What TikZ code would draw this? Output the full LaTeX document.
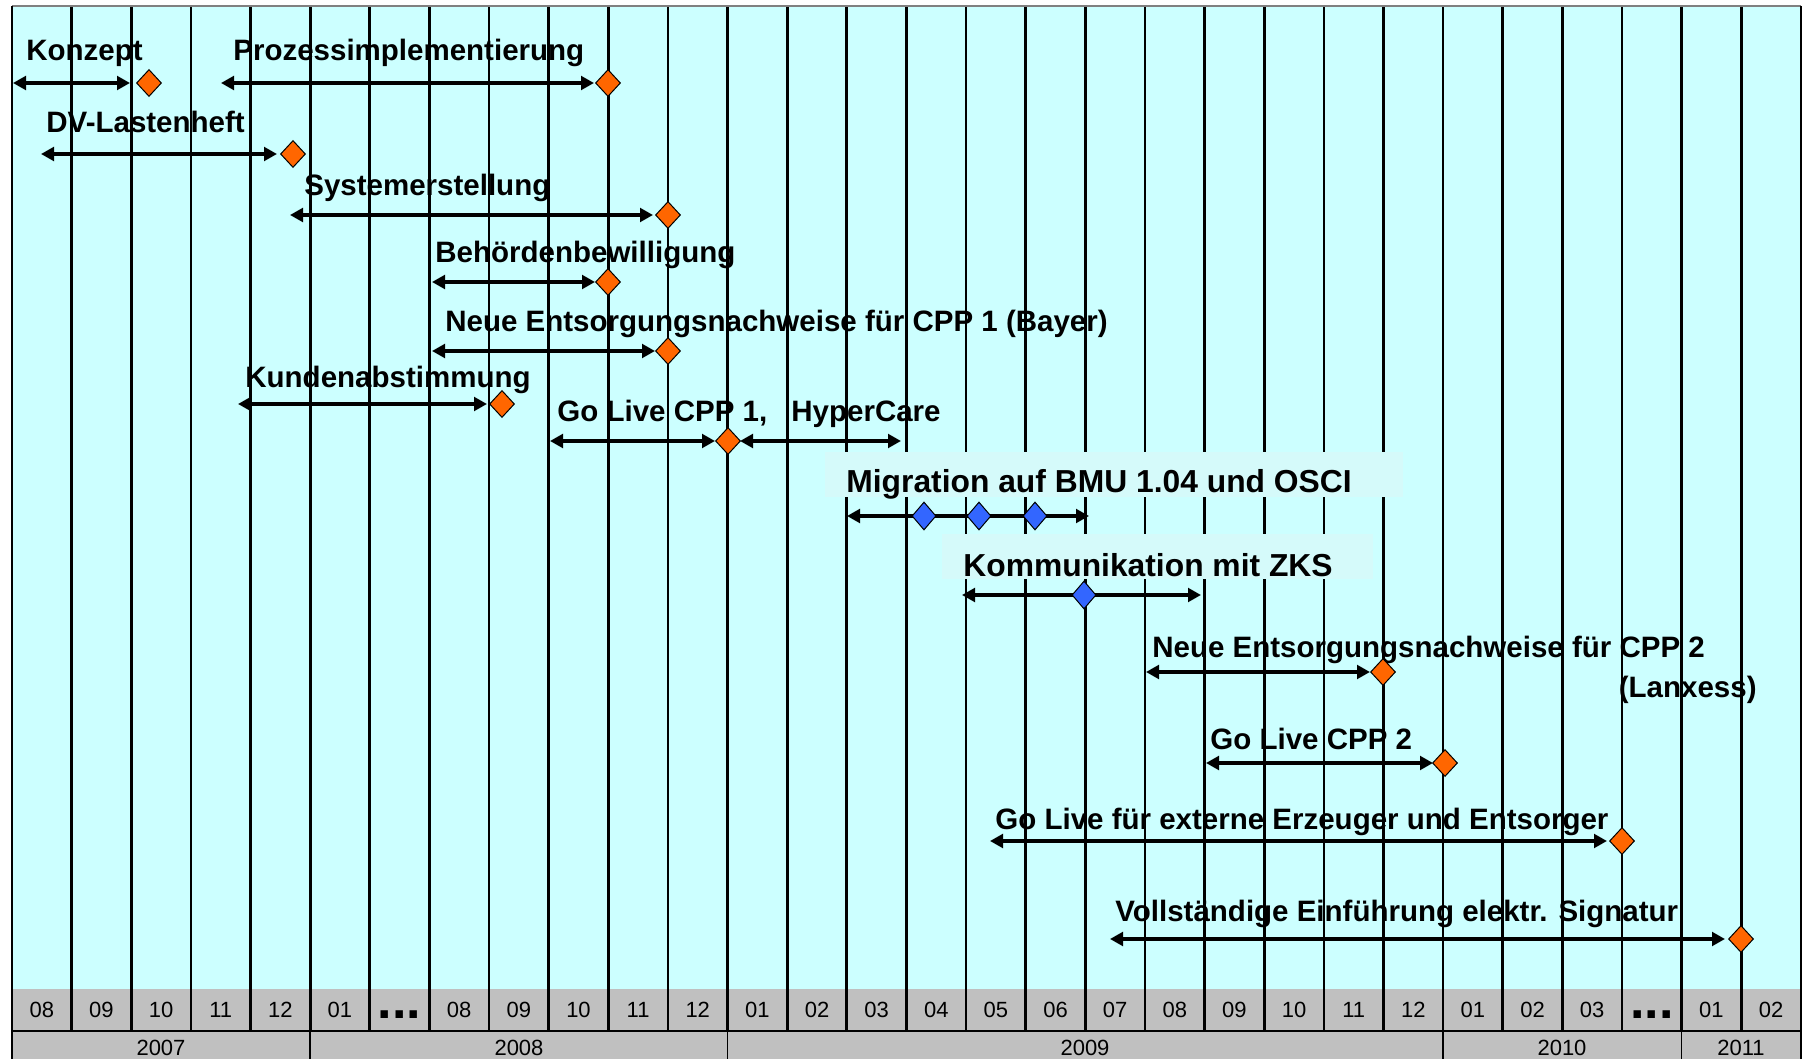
\documentclass[tikz,border=0pt]{standalone}
\usepackage{fontspec}
\setmainfont{Liberation Sans}
\usetikzlibrary{arrows.meta,shapes.geometric}
\definecolor{bgcyan}{RGB}{204,255,255}
\definecolor{boxcyan}{RGB}{213,250,250}
\definecolor{rowgray}{RGB}{192,192,192}
\definecolor{msorange}{RGB}{255,102,0}
\definecolor{msblue}{RGB}{51,102,255}
\begin{document}
\begin{tikzpicture}[x=0.5pt,y=-0.5pt,
  lbl/.style={anchor=base west,inner sep=0pt,font=\fontsize{14.75}{17}\selectfont\bfseries},
  biglbl/.style={anchor=base west,inner sep=0pt,font=\fontsize{15.9}{18}\selectfont\bfseries},
  vline/.style={line width=1.35pt,black},
  duo/.style={line width=1.6pt,{Triangle[length=6.5pt,width=6.8pt]}-{Triangle[length=6.5pt,width=6.8pt]}},
  ms/.style={diamond,draw=black,line width=0.5pt,fill=msorange,minimum width=12.5pt,minimum height=13.5pt,inner sep=0pt},
  msb/.style={ms,fill=msblue,minimum width=12pt,minimum height=14pt},
  mon/.style={anchor=base,inner sep=0pt,font=\fontsize{11}{13}\selectfont},
  dots/.style={anchor=base,inner sep=0pt,font=\fontsize{26}{26}\selectfont\bfseries},
]
\useasboundingbox (0,0) rectangle (1806,1059);
\fill[white] (0,0) rectangle (1806,1059);
\fill[bgcyan] (12,6) rectangle (1801,989);
\fill[rowgray] (12,989) rectangle (1801,1059);

% labels (under the grid lines)
\node[lbl] (tKonzept) at (26,61) {Konzept};
\node[lbl] (tProzess) at (233,61) {Prozessimplementierung};
\node[lbl] (tDV) at (46,133) {DV-Lastenheft};
\node[lbl] (tSystem) at (304,196) {Systemerstellung};
\node[lbl] (tBehoerde) at (435,263) {Behördenbewilligung};
\node[lbl] (tNeue1) at (445,332) {Neue Entsorgungsnachweise für CPP 1 (Bayer)};
\node[lbl] (tKunden) at (245,387) {Kundenabstimmung};
\node[lbl] (tGoLive1) at (557,422) {Go Live CPP 1,};
\node[lbl] (tHyper) at (791,422) {HyperCare};
\node[lbl] (tNeue2) at (1152,657) {Neue Entsorgungsnachweise für CPP 2};
\node[lbl,anchor=base east] (tLanxess) at (1757,697) {(Lanxess)};
\node[lbl] (tGoLive2) at (1210,749) {Go Live CPP 2};
\node[lbl] (tExtern) at (995,829) {Go Live für externe Erzeuger und Entsorger};
\node[lbl] (tSignatur) at (1115,921) {Vollständige Einführung elektr. Signatur};

% grid lines
\foreach \k in {1,...,29} {
  \draw[vline] ({12+59.63*\k},6) -- ({12+59.63*\k},1031);
}
\draw[line width=1pt] (12,1031) -- (1801,1031);
\foreach \k in {5,12,24,28} {
  \draw[line width=0.8pt] ({12+59.63*\k},1031) -- ({12+59.63*\k},1059);
}
\draw[gray,line width=0.8pt] (12,6) -- (1801,6);
\draw[line width=1.2pt] (12,6) -- (12,1059);
\draw[line width=1.2pt] (1801,6) -- (1801,1059);

% boxed labels
\fill[boxcyan] (825,452) rectangle (1403,497);
\node[biglbl] (tMigration) at (846,493) {Migration auf BMU 1.04 und OSCI};
\fill[boxcyan] (942,534) rectangle (1373,579);
\node[biglbl] (tZKS) at (963,576) {Kommunikation mit ZKS};

% month labels
\foreach \i/\m in {0/08,1/09,2/10,3/11,4/12,5/01,7/08,8/09,9/10,10/11,11/12,12/01,13/02,14/03,15/04,16/05,17/06,18/07,19/08,20/09,21/10,22/11,23/12,24/01,25/02,26/03,28/01,29/02} {
  \node[mon] (mo\i) at ({12+59.63*(\i+0.5)},1017) {\m};
}
\node[dots] (dotsA) at ({12+59.63*6.5},1018) {...};
\node[dots] (dotsB) at ({12+59.63*27.5},1018) {...};
\node[mon] (y2007) at (161,1055) {2007};
\node[mon] (y2008) at (519,1055) {2008};
\node[mon] (y2009) at (1085,1055) {2009};
\node[mon] (y2010) at (1562,1055) {2010};
\node[mon] (y2011) at (1741,1055) {2011};

% spans
\coordinate (s1a) at (13,83);   \coordinate (s1b) at (130,83);
\coordinate (s2a) at (221,83);  \coordinate (s2b) at (594,83);
\coordinate (s3a) at (41,154);  \coordinate (s3b) at (277,154);
\coordinate (s4a) at (290,215); \coordinate (s4b) at (653,215);
\coordinate (s5a) at (432,282); \coordinate (s5b) at (595,282);
\coordinate (s6a) at (432,351); \coordinate (s6b) at (655,351);
\coordinate (s7a) at (238,404); \coordinate (s7b) at (487,404);
\coordinate (s8a) at (550,441); \coordinate (s8b) at (715,441);
\coordinate (s9a) at (740,441); \coordinate (s9b) at (901,441);
\coordinate (s10a) at (847,516); \coordinate (s10b) at (1089,516);
\coordinate (s11a) at (962,595); \coordinate (s11b) at (1201,595);
\coordinate (s12a) at (1146,672); \coordinate (s12b) at (1370,672);
\coordinate (s13a) at (1206,763); \coordinate (s13b) at (1433,763);
\coordinate (s14a) at (990,841); \coordinate (s14b) at (1607,841);
\coordinate (s15a) at (1110,939); \coordinate (s15b) at (1725,939);
\foreach \n in {1,...,15} { \draw[duo] (s\n a) -- (s\n b); }

% milestones
\node[ms] (m1) at (149,83) {};
\node[ms] (m2) at (608,83) {};
\node[ms] (m3) at (293,154) {};
\node[ms] (m4) at (668,215) {};
\node[ms] (m5) at (608,282) {};
\node[ms] (m6) at (668,351) {};
\node[ms] (m7) at (502,404) {};
\node[ms] (m8) at (728,441) {};
\node[msb] (b1) at (924,516) {};
\node[msb] (b2) at (979,516) {};
\node[msb] (b3) at (1035,516) {};
\node[msb] (b4) at (1084,595) {};
\node[ms] (m9) at (1383,672) {};
\node[ms] (m10) at (1445,763) {};
\node[ms] (m11) at (1622,841) {};
\node[ms] (m12) at (1741,939) {};
\end{tikzpicture}
\end{document}
